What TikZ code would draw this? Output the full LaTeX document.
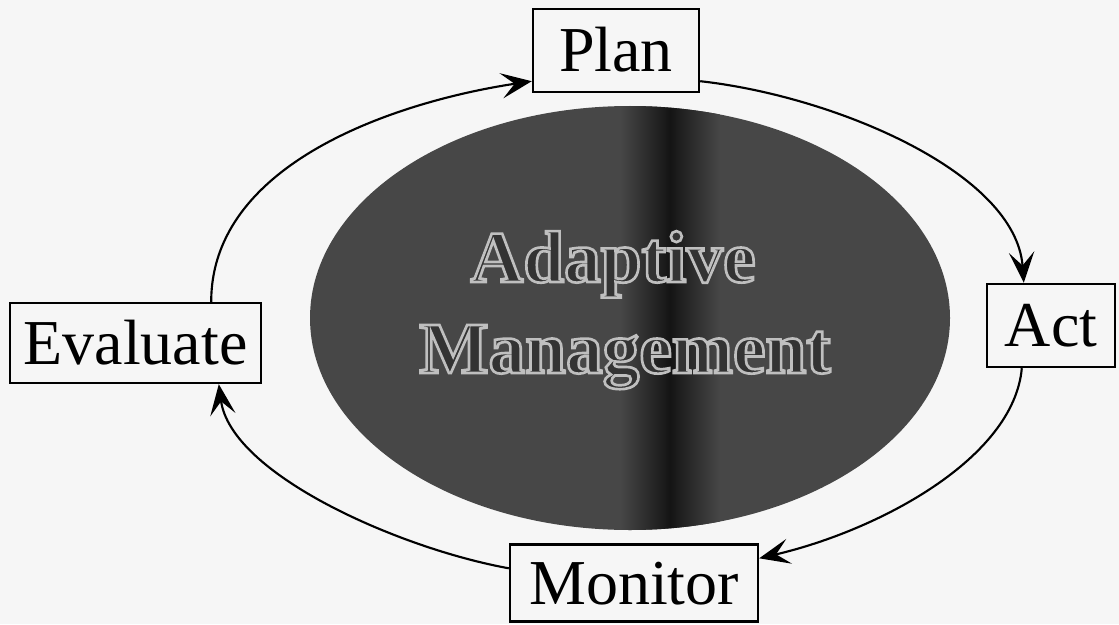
\documentclass[tikz,border=0pt]{standalone}
\usepackage{fontspec}
\setmainfont{Liberation Serif}
\usetikzlibrary{arrows.meta,calc,shapes.geometric}
\definecolor{bg}{gray}{0.965}
\definecolor{ellfill}{gray}{0.28}
\definecolor{band}{gray}{0.08}
\definecolor{ttlfill}{gray}{0.2}
\newcommand\outlinetext[1]{\special{pdf:literal direct 2 Tr 2 w 0.75 G}#1\special{pdf:literal direct 0 Tr}}
\begin{document}
\begin{tikzpicture}[x=0.75pt,y=0.75pt,
  box/.style={draw=black, line width=1.8pt, fill=bg, inner sep=0pt,
    font=\fontsize{48}{48}\selectfont, text height=31.7pt, text depth=0pt,
    align=center},
  core/.style={ellipse, fill=ellfill, draw=none, inner sep=0pt,
    minimum width=480pt, minimum height=318pt},
  ttl/.style={anchor=base, inner sep=0pt, text=ttlfill,
    font=\fontsize{55}{55}\bfseries\selectfont},
  conn/.style={line width=1.6pt, -{Stealth[length=23pt,width=19pt,inset=10pt]}}]
% background and bounding box
\fill[bg] (0,0) rectangle (1119,-624);
% central ellipse
\node[core] (core) at (630,-318) {};
\begin{scope}
  \clip (core.center) ellipse [x radius=240pt, y radius=159pt];
  \shade[left color=ellfill, right color=ellfill, middle color=band] (620,-100) rectangle (720,-540);
\end{scope}
% title
\node[ttl] (adaptive) at (613,-282) {\outlinetext{Adaptive}};
\node[ttl] (management) at (625,-373) {\outlinetext{Management}};
% boxes
\node[box, minimum width=124.5pt, minimum height=62.25pt] (pl) at (616,-50.5) {Plan};
\node[box, minimum width=96pt, minimum height=62.25pt] (act) at (1051,-325.5) {Act};
\node[box, minimum width=188.25pt, minimum height=60pt] (ev) at (135.5,-343) {Evaluate};
\node[box, minimum width=186pt, minimum height=57.75pt] (mon) at (634,-583) {Monitor};
% connector end points on the boxes
\coordinate (c1s) at ($(ev.north east)+(-51,0)$);
\coordinate (c1e) at ($(pl.south west)+(0,12)$);
\coordinate (c2s) at ($(pl.south east)+(0,12)$);
\coordinate (c2e) at ($(act.north west)+(38,0)$);
\coordinate (c3s) at ($(act.south west)+(36,0)$);
\coordinate (c3e) at ($(mon.north east)+(0,-15)$);
\coordinate (c4s) at ($(mon.north west)+(0,-25)$);
\coordinate (c4e) at ($(ev.south west)+(210,0)$);
% cycle
\draw[conn] (c1s) .. controls +(0,140) and +(-133,-20) .. (c1e);
\draw[conn] (c2s) .. controls +(135,-15) and +(-8,110) .. (c2e);
\draw[conn] (c3s) .. controls +(-8,-90) and +(120,28) .. (c3e);
\draw[conn] (c4s) .. controls +(-110,20) and +(12,-90) .. (c4e);
\end{tikzpicture}
\end{document}
